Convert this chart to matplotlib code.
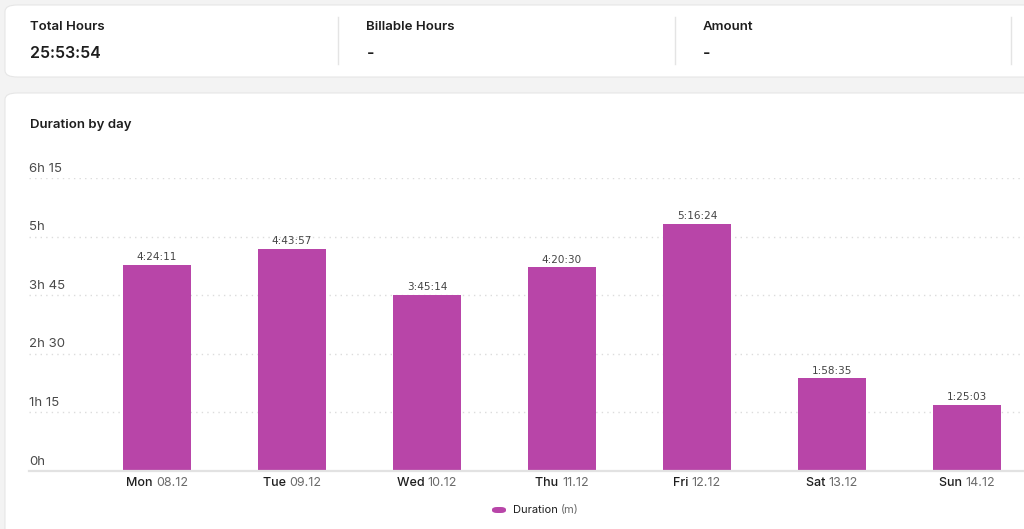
import matplotlib
matplotlib.use("Agg")
import matplotlib.pyplot as plt
from matplotlib.patches import FancyBboxPatch
from matplotlib.lines import Line2D

plt.rcParams['font.family'] = ['Inter', 'DejaVu Sans']

# data
days = ["Mon", "Tue", "Wed", "Thu", "Fri", "Sat", "Sun"]
dates = ["08.12", "09.12", "10.12", "11.12", "12.12", "13.12", "14.12"]
durations = ["4:24:11", "4:43:57", "3:45:14", "4:20:30", "5:16:24", "1:58:35", "1:25:03"]
y_ticks = [0, 75, 150, 225, 300, 375]
y_tick_labels = ["0h", "1h 15", "2h 30", "3h 45", "5h", "6h 15"]
summary_titles = ["Total Hours", "Billable Hours", "Amount"]
summary_values = ["25:53:54", "-", "-"]


def to_minutes(s):
    h, m, sec = [int(p) for p in s.split(":")]
    return h * 60 + m + sec / 60.0


minutes = [to_minutes(d) for d in durations]

W, H = 1024, 529
fig = plt.figure(figsize=(W / 100, H / 100), dpi=100)
fig.patch.set_facecolor("#f3f3f3")


def fx(x):
    return x / W


def fy(y):
    return 1 - y / H


BAR = "#b845a8"
DARK = "#1e1e1e"
GRAY = "#6a6a6a"

# cards (behind the axes)
for (x0, y0, x1, y1) in [(5, 5, 1040, 77), (5, 93, 1040, 560)]:
    fig.patches.append(FancyBboxPatch((fx(x0), fy(y1)), fx(x1 - x0), (y1 - y0) / H,
                                      boxstyle="round,pad=0,rounding_size=0.012",
                                      transform=fig.transFigure, facecolor="white",
                                      edgecolor="#e6e6e6", linewidth=0.8, zorder=-5))

# summary row
for i, (t, v) in enumerate(zip(summary_titles, summary_values)):
    x = 30 + i * 336.5
    fig.text(fx(x), fy(27), t, fontsize=9.5, fontweight="semibold", color=DARK, va="center")
    fig.text(fx(x), fy(53), v, fontsize=11.5, fontweight="semibold", color=DARK, va="center")
for xd in [338, 675, 1011]:
    fig.add_artist(Line2D([fx(xd), fx(xd)], [fy(17), fy(64)], transform=fig.transFigure,
                          color="#e4e4e4", linewidth=1))

fig.text(fx(30), fy(125), "Duration by day", fontsize=9.5, fontweight="semibold",
         color=DARK, va="center")

# chart axes
ax = fig.add_axes([fx(29), fy(471), fx(1024 - 29), (471 - 178) / H])
ax.set_zorder(2)
ax.set_facecolor("none")
x = list(range(len(days)))
ax.bar(x, minutes, width=0.5, color=BAR, zorder=3)
ax.set_xlim(-(157 - 29) / 135, (1024 - 157) / 135)
ax.set_ylim(0, 375)
for s in ax.spines.values():
    s.set_visible(False)
ax.set_xticks([])
ax.set_yticks([])

for yt, lab in zip(y_ticks, y_tick_labels):
    if yt > 0:
        ax.axhline(yt, color="#dcdcdc", linestyle=(0, (1, 3)), linewidth=1, zorder=1)
    ax.annotate(lab, xy=(0, yt), xycoords=("axes fraction", "data"), xytext=(0, 2.5),
                textcoords="offset points", fontsize=9.5, color="#4a4a4a",
                ha="left", va="bottom")
ax.axhline(0, color="#e2e2e2", linewidth=1.6, zorder=4, clip_on=False)

for xi, m, lab in zip(x, minutes, durations):
    ax.annotate(lab, xy=(xi, m), xytext=(0, 2), textcoords="offset points",
                ha="center", va="bottom", fontsize=7.5, color="#444444",
                family=["DejaVu Sans"])

fig.canvas.draw()
r = fig.canvas.get_renderer()
for xi, d, dt in zip(x, days, dates):
    t1 = ax.annotate(d + " ", xy=(xi, 0), xytext=(0, -8.5), textcoords="offset points",
                     ha="left", va="center", fontsize=9, fontweight="medium", color=DARK,
                     annotation_clip=False)
    t2 = ax.annotate(dt, xy=(xi, 0), xytext=(0, -8.5), textcoords="offset points",
                     ha="left", va="center", fontsize=9, color=GRAY, annotation_clip=False)
    w1 = t1.get_window_extent(r).width * 72 / fig.dpi
    w2 = t2.get_window_extent(r).width * 72 / fig.dpi
    start = -(w1 + w2) / 2
    t1.xyann = (start, -8.5)
    t2.xyann = (start + w1, -8.5)

# legend
fig.patches.append(FancyBboxPatch((fx(492), fy(513)), fx(14), 6 / H,
                                  boxstyle="round,pad=0,rounding_size=0.005",
                                  transform=fig.transFigure, facecolor=BAR, edgecolor="none"))
lt = fig.text(fx(513), fy(510), "Duration ", fontsize=8, color=DARK, va="center")
fig.canvas.draw()
bb = lt.get_window_extent(r)
fig.text(bb.x1 / W, fy(510), "(m)", fontsize=8, color=GRAY, va="center")

fig.savefig("out.png", dpi=100, facecolor=fig.get_facecolor())
